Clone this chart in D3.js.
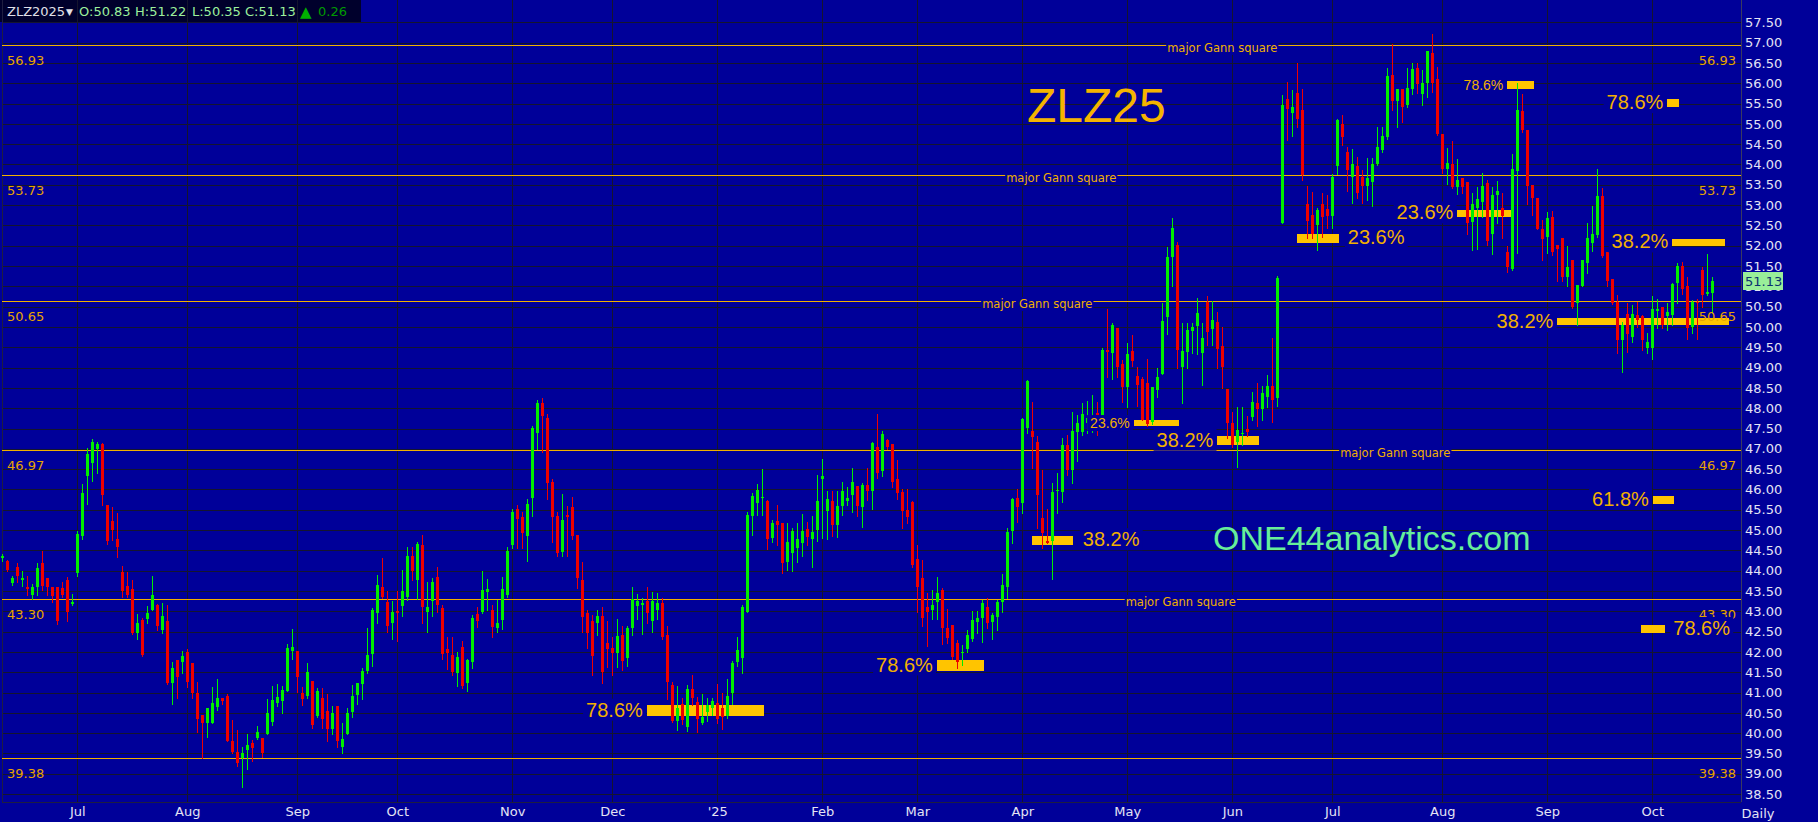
<!DOCTYPE html>
<html>
<head>
<meta charset="utf-8">
<script src="https://cdn.jsdelivr.net/npm/d3@7"></script>
<style>
  body { margin: 0; background: #000099; overflow: hidden; }
</style>
</head>
<body>
<div id="chart"></div>
<script>
// ZLZ25 daily bars, one value per trading day (Jun 2024 .. Oct 2025)
var opens = [
  44.30,44.24,43.69,44.08,43.77,43.59,43.40,43.61,44.18,43.81,43.59,43.59,43.57,43.77,43.18,
  43.94,44.86,46.32,46.65,46.99,47.12,45.61,45.22,44.77,43.96,43.62,43.54,42.46,42.79,42.81,43.03,43.16,42.54,42.75,41.24,41.80,41.76,
  41.99,41.72,41.00,40.45,40.24,40.24,40.65,40.87,40.92,39.81,39.54,39.38,39.58,39.77,39.87,39.89,39.99,40.28,40.75,40.80,41.04,42.03,
  42.03,41.00,40.92,41.28,40.42,40.87,40.55,40.10,40.68,39.66,39.99,40.51,40.94,41.21,41.54,41.96,42.95,43.59,43.24,42.71,
  43.00,43.14,43.36,44.37,43.76,44.62,42.99,43.26,43.84,43.07,42.07,41.92,41.47,42.13,41.23,41.76,42.93,42.99,43.48,43.03,42.60,42.79,43.40,
  44.63,45.52,45.33,44.86,45.80,47.38,48.14,47.75,46.19,45.35,44.45,45.37,45.56,44.88,43.77,42.95,42.75,42.70,42.88,42.23,
  42.10,41.97,42.42,41.86,42.60,43.13,43.16,43.26,42.77,43.03,43.21,42.42,41.19,40.31,40.73,40.16,41.09,40.76,40.26,40.51,40.61,
  40.75,40.61,40.42,40.98,41.76,41.84,42.99,45.35,45.67,45.78,45.72,44.81,45.22,45.17,44.22,44.44,44.57,44.69,45.02,44.78,45.01,
  46.25,45.48,45.72,45.12,45.60,45.72,45.86,46.08,45.56,46.11,45.97,47.04,46.46,47.22,47.13,46.25,45.94,45.49,45.70,
  44.28,43.81,43.11,43.03,43.23,43.52,42.60,42.66,42.23,41.97,42.06,42.33,42.74,42.83,43.10,42.74,42.87,43.22,43.61,44.98,45.78,
  45.66,47.52,47.44,47.18,45.29,44.73,44.74,45.97,45.94,47.09,46.49,47.42,47.42,47.64,47.68,47.88,47.81,49.43,49.35,49.97,49.10,
  48.51,49.42,48.79,48.71,48.61,47.65,48.44,48.85,50.25,51.73,52.02,49.02,49.39,49.89,50.02,49.35,50.62,49.94,50.12,49.52,48.48,
  47.64,47.18,47.38,47.48,47.79,48.14,47.99,48.27,48.55,48.24,52.55,55.61,55.26,55.77,55.34,53.03,52.76,52.51,53.03,52.90,
  52.74,53.97,54.99,54.31,53.70,53.96,53.70,53.48,53.58,54.00,54.36,54.67,56.20,55.56,55.87,55.46,55.86,56.38,55.73,56.00,56.74,56.10,
  54.74,53.90,54.00,53.44,53.66,53.58,52.59,52.92,53.08,53.55,52.29,53.25,52.92,51.85,51.42,53.85,55.32,54.86,53.50,53.18,52.40,
  52.21,52.70,52.02,52.20,51.22,51.66,50.58,51.01,51.58,52.06,52.26,53.23,51.85,51.17,50.62,49.68,50.33,49.76,50.30,50.27,49.47,
  49.47,50.40,50.48,50.26,50.30,51.07,51.50,51.01,50.01,50.62,51.39,50.81,50.83
];
var highs = [
  44.40,44.26,43.87,44.20,43.99,43.88,43.67,44.18,44.49,43.81,43.59,43.59,43.73,43.85,43.42,
  44.98,46.14,47.01,47.24,47.18,47.14,45.61,45.58,45.41,44.12,43.96,43.77,42.93,42.83,43.13,43.87,43.18,43.20,43.16,41.76,41.80,42.03,
  42.07,41.72,41.25,40.45,40.61,41.14,41.33,40.87,40.96,40.32,40.09,39.67,39.98,39.83,40.18,39.89,40.84,41.17,41.20,41.16,42.19,42.56,
  42.03,41.14,41.72,41.28,41.12,41.12,40.96,40.68,40.68,40.25,40.61,41.18,41.23,41.61,42.60,43.07,43.90,44.30,43.51,43.25,
  43.51,44.02,44.59,44.59,44.70,44.88,43.71,43.83,44.10,43.16,42.36,42.36,42.01,42.28,41.82,42.91,43.10,43.98,43.79,43.16,43.28,43.84,44.59,
  45.53,45.62,45.45,45.76,47.56,48.20,48.26,47.86,46.25,45.45,45.88,45.60,45.81,44.88,44.22,43.03,42.91,43.03,43.10,42.76,
  42.37,42.80,42.64,42.64,43.59,43.43,43.32,43.59,43.48,43.46,43.32,42.64,41.27,41.16,40.86,41.19,41.42,40.90,40.96,40.86,40.86,
  41.20,41.00,41.33,41.78,42.37,43.15,45.45,45.91,46.13,46.50,45.74,45.26,45.62,45.17,45.17,45.06,45.17,45.40,45.19,45.35,46.36,
  46.75,45.95,45.95,45.95,46.18,46.07,46.52,46.08,46.15,46.52,47.18,47.86,47.44,47.24,47.13,46.72,46.02,46.00,45.72,
  44.63,44.26,43.44,43.52,43.85,43.58,43.05,42.66,42.29,42.17,42.54,43.00,43.00,43.28,43.32,42.95,43.28,43.93,45.04,45.80,46.02,
  47.77,48.69,48.16,47.31,46.48,45.51,46.15,46.40,47.27,47.34,47.91,47.83,48.12,48.18,48.33,48.16,49.49,50.44,50.10,49.97,49.19,
  49.61,49.79,49.02,48.78,49.20,48.53,48.98,50.60,51.96,52.68,52.10,50.09,50.09,50.09,50.71,50.09,50.76,50.65,50.36,50.00,48.48,
  47.91,48.04,48.04,47.81,48.41,48.63,48.55,48.82,49.72,51.25,55.71,56.04,55.83,56.51,55.85,53.48,53.33,52.92,53.29,53.25,
  53.76,55.13,55.22,54.44,54.37,54.19,53.86,54.17,54.17,54.93,54.93,56.38,56.96,55.85,55.87,56.37,56.49,56.51,56.33,56.79,57.21,56.41,
  54.74,54.40,54.58,54.13,53.66,53.58,53.29,53.45,53.78,53.62,53.45,53.60,53.30,51.99,54.27,56.01,55.73,54.86,53.50,53.18,52.63,
  52.84,52.86,52.02,52.20,51.99,51.66,51.03,51.66,52.55,52.98,53.88,53.41,51.85,51.17,50.79,50.13,50.58,50.54,50.62,50.30,49.84,
  50.76,50.70,50.50,50.60,51.07,51.57,51.61,51.24,50.66,50.68,51.47,51.79,51.22
];
var lows = [
  44.25,44.00,43.65,43.73,43.63,43.40,43.30,43.40,43.53,43.39,43.24,42.69,43.36,42.75,43.15,
  43.87,44.77,45.64,46.21,46.40,45.62,44.66,44.76,44.33,43.36,43.36,42.45,42.31,41.90,42.70,43.02,42.54,42.47,41.20,40.72,40.87,41.47,
  41.14,40.86,40.04,39.38,39.91,40.24,40.57,40.72,39.81,39.50,39.19,38.67,39.11,39.31,39.85,39.42,39.99,40.20,40.67,40.50,41.04,41.82,
  41.02,40.70,40.86,40.12,40.40,40.12,39.81,39.97,39.65,39.52,39.99,40.41,40.73,40.85,41.49,41.66,42.70,43.33,42.50,42.33,
  42.28,42.88,43.28,43.77,43.30,42.72,42.50,42.88,42.99,41.82,41.57,41.43,41.16,41.12,41.04,41.60,42.62,42.97,43.03,42.36,42.48,42.56,43.34,
  44.55,44.55,44.57,44.25,45.35,46.99,46.91,45.76,44.71,44.35,44.37,44.36,44.78,43.58,42.50,42.10,41.43,42.42,41.24,41.64,
  41.43,41.64,41.56,41.65,42.42,42.81,42.44,42.72,42.50,42.80,42.33,40.83,40.28,40.08,40.22,40.06,40.69,40.04,40.22,40.31,40.44,
  40.24,40.10,40.38,40.73,41.65,41.49,42.99,44.88,45.37,45.37,44.53,44.71,44.63,43.95,44.02,43.98,44.22,44.37,44.63,44.10,44.73,
  44.80,44.78,44.86,44.84,45.36,45.62,45.44,45.35,45.07,45.74,45.51,46.27,46.33,47.00,46.07,45.76,45.06,45.17,44.10,
  42.99,42.64,42.15,42.80,42.80,42.19,42.21,41.82,41.60,41.69,42.00,42.28,42.47,42.25,42.58,42.33,42.54,42.99,43.32,44.69,45.21,
  45.43,47.38,46.52,45.04,44.55,44.67,43.79,45.41,45.70,46.35,46.17,46.71,47.34,47.40,47.42,47.34,47.81,48.78,48.73,48.78,48.16,
  48.03,49.05,48.05,47.70,47.55,47.61,48.28,48.84,49.82,51.00,48.98,48.14,48.98,49.35,49.33,48.56,49.56,49.56,48.99,48.50,47.26,
  47.05,46.56,47.09,47.32,47.71,47.55,47.71,48.04,47.67,48.05,52.55,54.60,54.70,54.93,53.62,52.18,52.18,51.90,52.22,52.43,
  52.43,53.76,54.48,53.35,53.04,53.17,53.04,53.12,52.99,53.99,54.30,54.62,55.34,54.93,55.05,55.42,55.73,55.75,55.46,55.67,55.79,54.72,
  53.78,53.53,53.41,53.27,53.29,52.30,51.89,51.91,52.71,52.02,51.80,52.55,52.20,51.36,51.40,51.83,54.81,53.03,52.76,52.41,51.66,
  51.81,51.77,51.14,51.14,51.01,50.46,50.05,51.01,51.34,51.88,52.21,51.73,51.01,50.56,49.35,48.90,49.39,49.64,50.01,49.43,49.35,
  49.20,49.97,49.97,49.93,50.05,50.60,50.81,49.70,49.84,49.70,50.50,50.79,50.35
];
var closes = [
  44.35,44.02,43.81,43.87,43.81,43.55,43.59,44.06,43.63,43.61,43.38,42.75,43.40,42.99,43.22,
  44.90,45.91,46.87,47.16,47.12,45.87,44.72,45.00,44.59,43.51,43.39,42.47,42.70,41.92,42.97,43.39,42.64,42.89,41.23,41.60,41.39,41.90,
  41.25,40.98,40.35,40.24,40.61,40.75,40.87,40.79,39.81,39.54,39.27,39.52,39.71,39.63,40.04,39.50,40.50,40.82,40.90,41.06,42.09,42.13,
  41.39,40.84,41.50,40.20,41.04,40.34,40.11,40.49,39.81,39.85,40.49,40.92,41.23,41.53,41.92,43.03,43.65,43.36,42.65,42.98,
  42.96,43.49,44.35,43.99,44.66,43.10,43.11,43.71,43.15,41.96,41.98,41.51,41.88,41.16,41.79,42.84,42.77,43.52,43.55,42.62,42.70,43.54,44.48,
  45.44,45.27,44.92,45.64,47.52,48.12,47.82,46.17,45.33,44.44,45.25,45.31,44.86,43.81,42.87,42.46,41.91,42.88,41.51,42.07,
  41.97,42.39,41.78,42.60,43.30,43.25,43.21,42.97,43.26,43.20,42.36,41.27,40.31,40.61,40.32,41.09,40.86,40.35,40.39,40.69,40.80,
  40.36,40.41,40.92,41.72,42.05,43.11,45.37,45.84,45.99,45.81,44.77,45.17,45.12,44.18,44.70,44.98,44.78,44.98,44.82,44.96,45.72,
  46.33,45.76,45.12,45.59,45.96,45.80,46.18,45.60,46.11,45.97,47.14,46.40,47.36,47.04,46.19,45.92,45.48,45.33,44.14,
  43.59,42.83,42.99,43.15,43.46,42.58,42.35,41.88,41.74,42.01,42.42,42.78,42.84,43.21,42.72,42.91,43.22,43.65,44.96,45.76,45.56,
  47.73,48.67,47.28,45.86,44.92,44.69,45.94,45.99,47.09,46.48,47.45,47.64,47.86,47.75,47.72,47.79,49.43,49.39,50.05,49.02,48.51,
  49.33,49.15,48.57,47.72,47.60,48.53,48.76,50.15,51.73,52.43,49.43,49.42,49.93,50.01,50.34,49.72,49.88,50.16,49.46,49.02,47.64,
  47.09,47.46,47.40,47.42,48.16,47.99,48.37,48.55,48.19,51.21,55.46,55.36,55.42,55.11,53.74,52.62,52.30,52.88,52.71,52.74,
  53.70,55.09,54.68,53.86,54.01,53.29,53.48,53.67,54.00,54.43,54.70,56.18,55.56,55.85,55.41,55.89,56.34,55.98,56.01,56.79,56.00,54.75,
  53.90,54.03,53.44,53.63,53.44,52.55,53.03,53.14,53.47,52.12,53.25,53.35,52.73,51.47,53.88,55.34,54.86,53.48,53.17,52.41,52.16,
  52.67,51.85,51.93,51.22,51.47,50.48,51.03,51.65,52.18,52.29,53.22,51.75,51.14,50.60,49.68,50.05,49.83,50.32,50.17,49.68,49.62,
  50.43,50.45,50.05,50.38,51.06,51.50,50.93,49.97,50.62,50.58,50.79,50.87,51.13
];

// month ticks: bar index of first trading day of each month
var monthStarts = [15, 37, 59, 79, 102, 122, 143, 164, 183, 204, 225, 246, 266, 288, 309, 330];
var monthLabels = ["Jul","Aug","Sep","Oct","Nov","Dec","'25","Feb","Mar","Apr","May","Jun","Jul","Aug","Sep","Oct"];

// major Gann squares and where their caption sits (bar index), null = no caption
var gannLevels = [56.93, 53.73, 50.65, 46.97, 43.30, 39.38];
var gannCaptionAt = [244, 211.8, 207, 278.6, 235.7, null];

// fib retracement markers
var fibLabels = ["78.6%","78.6%","38.2%","23.6%","38.2%","23.6%","23.6%","78.6%","78.6%","38.2%","38.2%","61.8%","78.6%"];
var fibHigh   = [40.69, 41.80, 44.86, 47.71, 47.31, 52.29, 52.88, 56.06, 55.61, 52.17, 50.21, 45.84, 42.66];
var fibLow    = [40.42, 41.53, 44.64, 47.56, 47.09, 52.07, 52.71, 55.86, 55.41, 51.99, 50.03, 45.64, 42.47];
var fibFrom   = [128.9, 186.9, 206.0, 226.3, 243.0, 259.0, 291.0, 301.0, 333.0, 334.0, 311.0, 330.1, 327.7];
var fibTo     = [152.3, 196.3, 214.3, 235.3, 251.3, 267.3, 301.8, 306.3, 335.4, 344.5, 345.3, 334.3, 332.4];
var fibSide   = ["left","left","right","left","left","right","left","left","left","left","left","left","right"];
var fibMinor  = [false,false,false,true,false,false,false,true,false,false,false,false,false];

var W = 1818, H = 822,
    plotLeft = 2, plotRight = 1741, plotBottom = 802;

var BG = "#000099", GRID = "#15152e", GOLD = "#f2b000", BAR = "#ffc400",
    UP = "#00ee00", DOWN = "#ee0000";

var svg = d3.select("#chart").append("svg")
    .attr("width", W).attr("height", H)
    .style("font-family", "'DejaVu Sans', Verdana, sans-serif");

svg.append("rect").attr("width", W).attr("height", H).attr("fill", BG);

var x = d3.scaleLinear().domain([0, closes.length - 1]).range([2.3, 1712.3]);
var y = d3.scaleLinear().domain([38.5, 57.5]).range([794.1, 22.3]);
function px(v) { return Math.round(v) + 0.5; }

// header box
svg.append("rect").attr("x", 0).attr("y", 0).attr("width", 361).attr("height", 22)
  .attr("fill", "#00002c");

// grid
var yTicks = d3.range(38.5, 57.51, 0.5);
var grid = svg.append("g").attr("shape-rendering", "crispEdges");
grid.selectAll(".hg").data(yTicks).enter().append("line")
    .attr("x1", plotLeft).attr("x2", plotRight)
    .attr("y1", function(d) { return px(y(d)); })
    .attr("y2", function(d) { return px(y(d)); })
    .attr("stroke", GRID).attr("stroke-width", 1.4);
grid.selectAll(".vg").data(monthStarts).enter().append("line")
    .attr("x1", function(d) { return px(x(d)); })
    .attr("x2", function(d) { return px(x(d)); })
    .attr("y1", 0).attr("y2", plotBottom)
    .attr("stroke", GRID).attr("stroke-width", 1);

// plot frame
grid.append("line").attr("x1", px(plotRight)).attr("x2", px(plotRight))
    .attr("y1", 0).attr("y2", plotBottom).attr("stroke", "#3a3a60");
grid.append("line").attr("x1", plotLeft).attr("x2", plotRight)
    .attr("y1", px(plotBottom)).attr("y2", px(plotBottom)).attr("stroke", "#1e1e40");
grid.append("line").attr("x1", px(plotLeft)).attr("x2", px(plotLeft))
    .attr("y1", 0).attr("y2", plotBottom).attr("stroke", "#1e1e40");

// Gann lines
svg.append("g").attr("shape-rendering", "crispEdges")
  .selectAll("line").data(gannLevels).enter().append("line")
    .attr("x1", plotLeft).attr("x2", plotRight)
    .attr("y1", function(d) { return px(y(d)); })
    .attr("y2", function(d) { return px(y(d)); })
    .attr("stroke", GOLD).attr("stroke-width", 1);

// fib bars (under the candles)
svg.append("g").attr("shape-rendering", "crispEdges")
  .selectAll("rect").data(fibLabels).enter().append("rect")
    .attr("x", function(d, i) { return Math.round(x(fibFrom[i])); })
    .attr("width", function(d, i) { return Math.round(x(fibTo[i]) - x(fibFrom[i])); })
    .attr("y", function(d, i) { return Math.round(y(fibHigh[i])); })
    .attr("height", function(d, i) { return Math.max(5, Math.round(y(fibLow[i]) - y(fibHigh[i]))); })
    .attr("fill", BAR);

// candles
var candles = svg.append("g").attr("shape-rendering", "crispEdges")
  .selectAll("g").data(closes).enter().append("g");
candles.append("line")
    .attr("x1", function(d, i) { return px(x(i)); })
    .attr("x2", function(d, i) { return px(x(i)); })
    .attr("y1", function(d, i) { return Math.round(y(highs[i])); })
    .attr("y2", function(d, i) { return Math.round(y(lows[i])) + 1; })
    .attr("stroke", function(d, i) { return d >= opens[i] ? UP : DOWN; });
candles.append("rect")
    .attr("x", function(d, i) { return Math.round(x(i)) - 1; })
    .attr("width", 3)
    .attr("y", function(d, i) { return Math.round(y(Math.max(d, opens[i]))); })
    .attr("height", function(d, i) {
      return Math.max(1, Math.round(y(Math.min(d, opens[i]))) - Math.round(y(Math.max(d, opens[i]))));
    })
    .attr("fill", function(d, i) { return d >= opens[i] ? UP : DOWN; });

// text with a background patch so lines/grid are cut behind it
function boxedText(g, tx, ty, str, anchor, size, family, color, pad) {
  var t = g.append("text").attr("x", tx).attr("y", ty).attr("text-anchor", anchor)
      .attr("font-size", size).attr("font-family", family).attr("fill", color).text(str);
  var b = t.node().getBBox();
  g.insert("rect", function() { return t.node(); })
      .attr("x", b.x - pad).attr("y", b.y).attr("width", b.width + 2 * pad).attr("height", b.height)
      .attr("fill", BG);
  return t;
}

// level values left and right
var lvl = svg.append("g");
gannLevels.forEach(function(v) {
  lvl.append("text").attr("x", 7).attr("y", Math.round(y(v)) + 20)
    .attr("font-size", 13).attr("fill", "#e8a400").text(v.toFixed(2));
  lvl.append("text").attr("x", 1736).attr("y", Math.round(y(v)) + 20).attr("text-anchor", "end")
    .attr("font-size", 13).attr("fill", "#e8a400").text(v.toFixed(2));
});

// "major Gann square" captions
var cap = svg.append("g");
gannLevels.forEach(function(v, i) {
  if (gannCaptionAt[i] == null) return;
  boxedText(cap, x(gannCaptionAt[i]), Math.round(y(v)) + 7, "major Gann square", "middle",
            11.5, "'DejaVu Sans', Verdana, sans-serif", GOLD, 1);
});

// fib captions
var fibG = svg.append("g");
fibLabels.forEach(function(s, i) {
  var mid = (y(fibHigh[i]) + y(fibLow[i])) / 2;
  var size = fibMinor[i] ? 14 : 20;
  var tx = fibSide[i] === "left" ? x(fibFrom[i]) - 4 : x(fibTo[i]) + 9;
  boxedText(fibG, tx, mid + (fibMinor[i] ? 5 : 6), s, fibSide[i] === "left" ? "end" : "start",
            size, "'Liberation Sans', Arial, sans-serif", GOLD, 3);
});

// title and watermark
svg.append("text").attr("x", 1027).attr("y", 122)
  .attr("font-family", "'Liberation Sans', Arial, sans-serif").attr("font-size", 48)
  .attr("fill", "#f5b400").text("ZLZ25");
svg.append("text").attr("x", 1213).attr("y", 550)
  .attr("font-family", "'Liberation Sans', Arial, sans-serif").attr("font-size", 34)
  .attr("fill", "#66ee99").text("ONE44analytics.com");

// right price axis
var yAxis = svg.append("g").attr("transform", "translate(" + plotRight + ",0)")
  .call(d3.axisRight(y).tickValues(yTicks).tickSize(0).tickPadding(4).tickFormat(d3.format(".2f")));
yAxis.select(".domain").remove();
yAxis.selectAll("text").attr("font-size", 13).attr("fill", "#e4e4f4")
  .attr("font-family", "'DejaVu Sans', Verdana, sans-serif");

// bottom month axis
var xAxis = svg.append("g").attr("transform", "translate(0," + plotBottom + ")")
  .call(d3.axisBottom(x).tickValues(monthStarts).tickSize(0).tickPadding(5)
    .tickFormat(function(d, i) { return monthLabels[i]; }));
xAxis.select(".domain").remove();
xAxis.selectAll("text").attr("font-size", 13).attr("fill", "#e4e4f4")
  .attr("font-family", "'DejaVu Sans', Verdana, sans-serif");
svg.append("text").attr("x", 1758).attr("y", 818).attr("text-anchor", "middle")
  .attr("font-size", 13).attr("fill", "#e4e4f4").text("Daily");

// last price tag
var last = closes[closes.length - 1];
svg.append("rect").attr("x", 1743).attr("y", Math.round(y(last)) - 9).attr("width", 40).attr("height", 18)
  .attr("fill", "#99ee99");
svg.append("text").attr("x", 1745).attr("y", Math.round(y(last)) + 5)
  .attr("font-size", 13).attr("fill", "#0a3070").text(last.toFixed(2));

// header text
var n = closes.length - 1;
var hdr = svg.append("g").attr("font-size", 13);
hdr.append("text").attr("x", 7).attr("y", 16).attr("fill", "#e0e0e8").text("ZLZ2025");
hdr.append("text").attr("x", 66).attr("y", 15).attr("font-size", 9).attr("fill", "#e0e0e8").text("\u25BC");
hdr.append("text").attr("x", 79).attr("y", 16).attr("fill", "#9cf09c").text("O:" + opens[n].toFixed(2));
hdr.append("text").attr("x", 135).attr("y", 16).attr("fill", "#9cf09c").text("H:" + highs[n].toFixed(2));
hdr.append("text").attr("x", 192).attr("y", 16).attr("fill", "#9cf09c").text("L:" + lows[n].toFixed(2));
hdr.append("text").attr("x", 245).attr("y", 16).attr("fill", "#9cf09c").text("C:" + last.toFixed(2));
hdr.append("text").attr("x", 300).attr("y", 17).attr("font-size", 15).attr("fill", "#00b000").text("\u25B2");
hdr.append("text").attr("x", 318).attr("y", 16).attr("fill", "#009a00").text((last - closes[n - 1]).toFixed(2));
</script>
</body>
</html>
